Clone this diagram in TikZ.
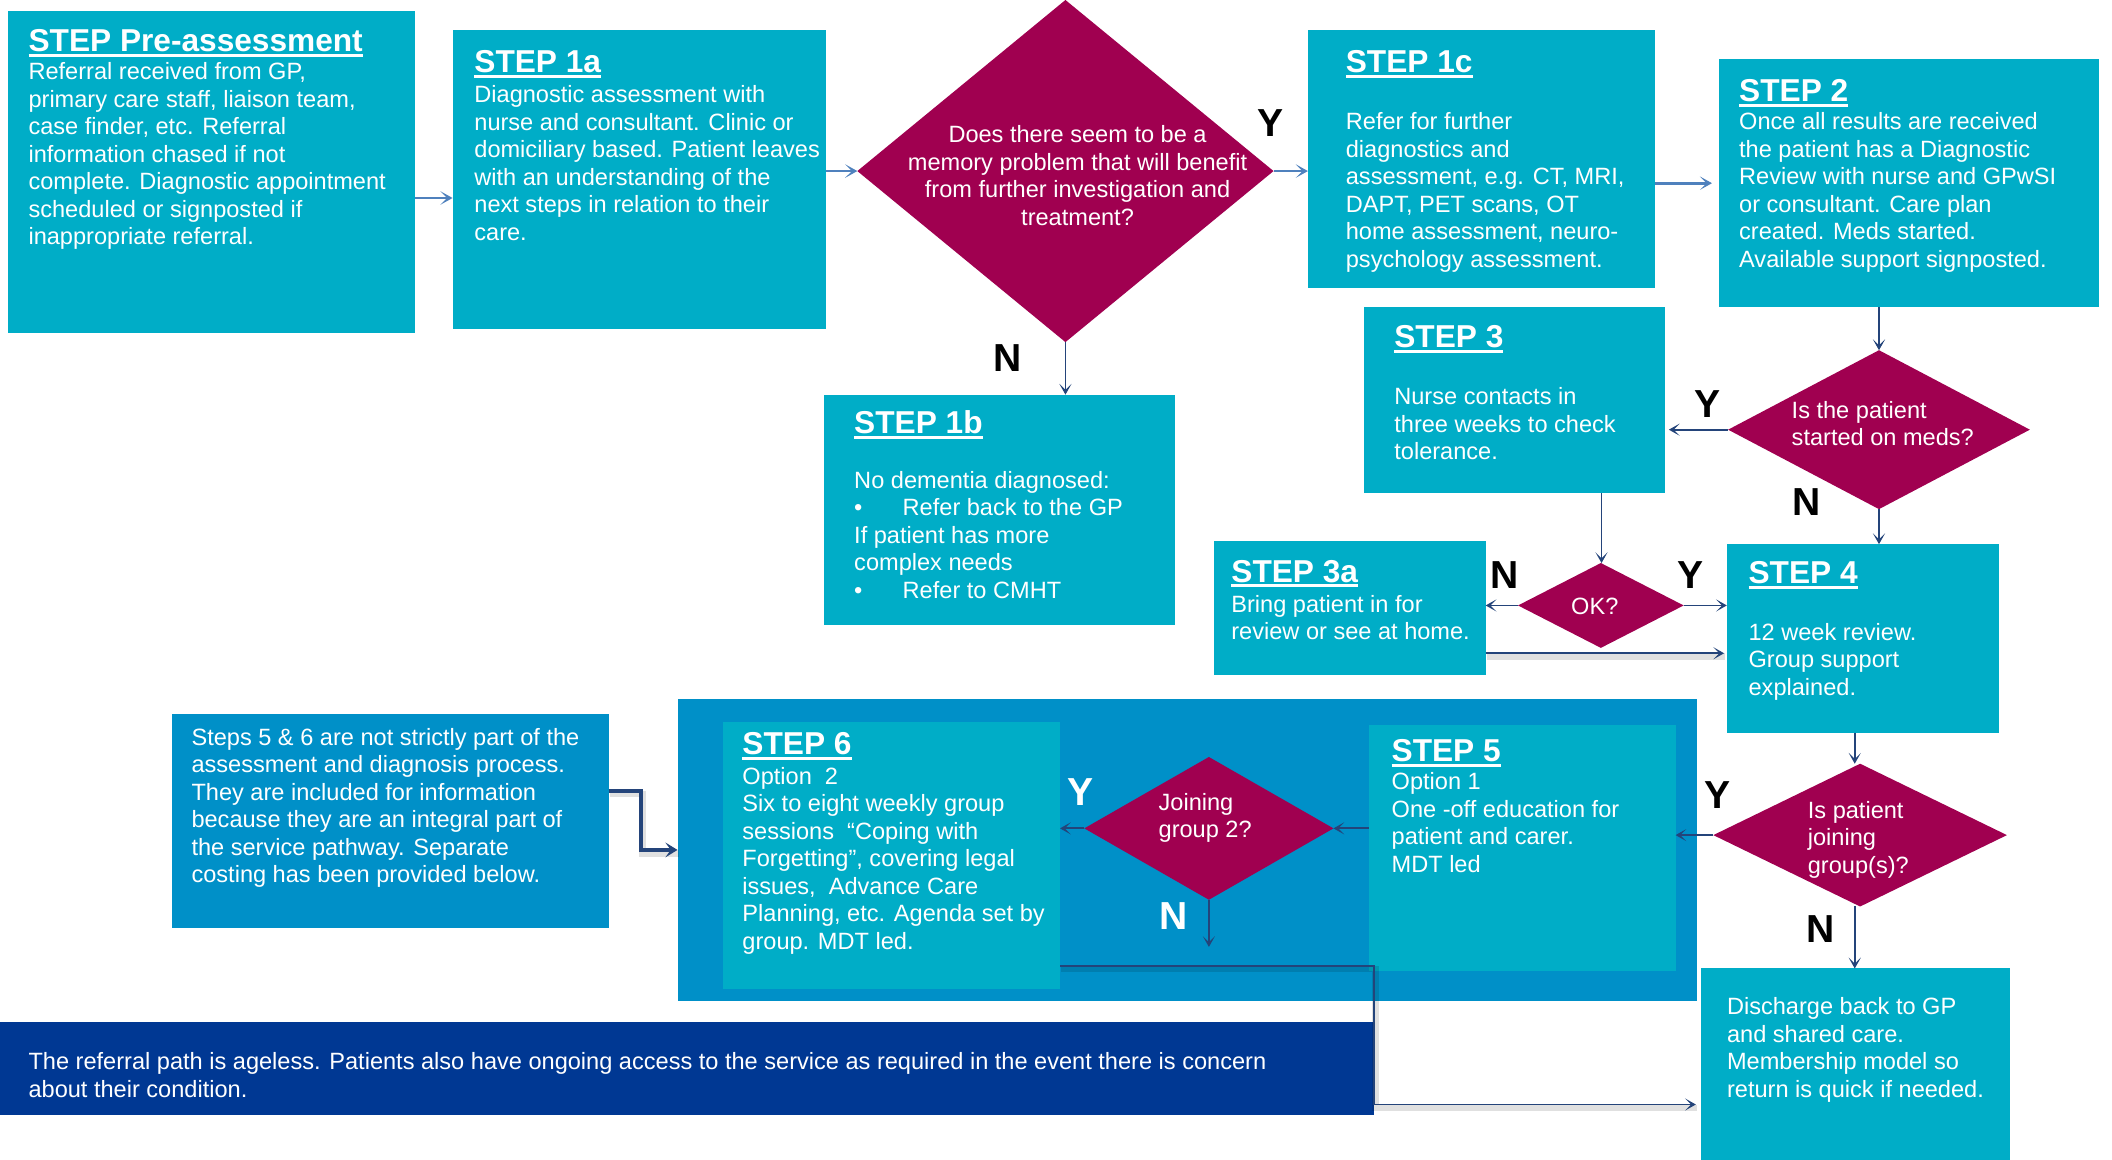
\documentclass[tikz,border=0pt]{standalone}
\usepackage{fontspec}
\setmainfont{Liberation Sans}
\usetikzlibrary{arrows.meta,shapes.geometric}

\definecolor{tealbox}{RGB}{0,173,199}
\definecolor{groupblue}{RGB}{0,144,200}
\definecolor{plum}{RGB}{160,0,80}
\definecolor{navy}{RGB}{0,56,147}
\definecolor{linkdark}{RGB}{36,68,122}
\definecolor{linklight}{RGB}{79,129,189}

\newcommand\bodyfont{\fontsize{17.5}{20.4}\selectfont}
\newcommand\titlefont{\fontsize{23.5}{28}\selectfont\bfseries}
\newcommand\ynfont{\fontsize{29}{30}\selectfont\bfseries}
% underlined step heading with a heavy rule
\newcommand\stepul[1]{\setbox0=\hbox{#1}\rlap{\rule[-4pt]{\wd0}{2.2pt}}\box0}
\newcommand\bul{\makebox[36pt][l]{•}}

\begin{document}
\begin{tikzpicture}[x=1pt,y=-1pt,
  box/.style={fill=tealbox, inner sep=0pt, outer sep=0pt, anchor=north west},
  gbox/.style={fill=groupblue, inner sep=0pt, outer sep=0pt, anchor=north west},
  dia/.style={diamond, fill=plum, inner sep=0pt, outer sep=0pt},
  txt/.style={anchor=north west, inner sep=0pt, align=left, text=white, font=\bodyfont},
  ttl/.style={anchor=north west, inner sep=0pt, text=white, font=\titlefont},
  yn/.style={inner sep=0pt, font=\ynfont, text=black},
  ynw/.style={inner sep=0pt, font=\ynfont, text=white},
  arrL/.style={draw=linklight, line width=2pt, -{Stealth[length=9pt,width=10pt,inset=5pt]}},
  arrD/.style={draw=linkdark, line width=1.4pt, -{Stealth[length=8pt,width=9pt,inset=4.5pt]}},
  shadowed/.style={preaction={draw=black, opacity=0.12, line width=5pt, -,
      transform canvas={shift={(1pt,-2.5pt)}}}}
]
\useasboundingbox (0,0) rectangle (1568,861);

% ---------- boxes ----------
\node[box, minimum width=302pt, minimum height=239pt] (pre) at (6,8) {};
\node[box, minimum width=277pt, minimum height=222pt] (s1a) at (336,22) {};
\node[box, minimum width=258pt, minimum height=192pt] (s1c) at (971,22) {};
\node[box, minimum width=282pt, minimum height=184pt] (s2) at (1276,44) {};
\node[box, minimum width=260pt, minimum height=171pt] (s1b) at (612,293) {};
\node[box, minimum width=223pt, minimum height=138pt] (s3) at (1013,228) {};
\node[box, minimum width=202pt, minimum height=99pt] (s3a) at (901,402) {};
\node[box, minimum width=202pt, minimum height=140pt] (s4) at (1282,404) {};
\node[box, minimum width=229pt, minimum height=142pt] (dis) at (1263,719) {};
\node[gbox, minimum width=757pt, minimum height=224pt] (grp) at (503,519) {};
\node[box, minimum width=250pt, minimum height=198pt] (s6) at (537,536) {};
\node[box, minimum width=228pt, minimum height=183pt] (s5) at (1016,538) {};
\node[gbox, minimum width=324pt, minimum height=159pt] (note) at (128,530) {};
\node[fill=navy, inner sep=0pt, outer sep=0pt, anchor=north west,
      minimum width=1020pt, minimum height=69pt] (banner) at (0,759) {};

% ---------- decisions ----------
\node[dia, minimum width=309pt, minimum height=254pt] (q1) at (791,127) {};
\node[dia, minimum width=224pt, minimum height=118pt] (q2) at (1395,319) {};
\node[dia, minimum width=123pt, minimum height=63pt] (qok) at (1188.5,449.5) {};
\node[dia, minimum width=218pt, minimum height=106pt] (q3) at (1381,620) {};
\node[dia, minimum width=185pt, minimum height=106pt] (q4) at (897.5,615) {};

% ---------- texts ----------
\node[ttl] (preT) at (21,21.5) {\stepul{STEP Pre-assessment}};
\node[txt] (preB) at (21,46.5) {Referral received from GP,\\primary care staff, liaison team,\\case finder, etc. Referral\\information chased if not\\complete. Diagnostic appointment\\scheduled or signposted if\\inappropriate referral.};

\node[ttl] (s1aT) at (352,37.5) {\stepul{STEP 1a}};
\node[txt] (s1aB) at (352,63.5) {Diagnostic assessment with\\nurse and consultant. Clinic or\\domiciliary based. Patient leaves\\with an understanding of the\\next steps in relation to their\\care.};

\node[inner sep=0pt, align=center, text=white, font=\bodyfont] (q1T) at (800,130.5)
  {Does there seem to be a\\memory problem that will benefit\\from further investigation and\\treatment?};

\node[ttl] (s1cT) at (999,37.5) {\stepul{STEP 1c}};
\node[txt] (s1cB) at (999,83.5) {Refer for further\\diagnostics and\\assessment, e.g. CT, MRI,\\DAPT, PET scans, OT\\home assessment, neuro-\\psychology assessment.};

\node[ttl] (s2T) at (1291,58.5) {\stepul{STEP 2}};
\node[txt] (s2B) at (1291,83.5) {Once all results are received\\the patient has a Diagnostic\\Review with nurse and GPwSI\\or consultant. Care plan\\created. Meds started.\\Available support signposted.};

\node[ttl] (s1bT) at (634,304.5) {\stepul{STEP 1b}};
\node[txt] (s1bB) at (634,349.5) {No dementia diagnosed:\\\bul Refer back to the GP\\If patient has more\\complex needs\\\bul Refer to CMHT};

\node[ttl] (s3T) at (1035,241.5) {\stepul{STEP 3}};
\node[txt] (s3B) at (1035,287.5) {Nurse contacts in\\three weeks to check\\tolerance.};

\node[txt] (q2T) at (1330,297.5) {Is the patient\\started on meds?};

\node[ttl] (s3aT) at (914,415.5) {\stepul{STEP 3a}};
\node[txt] (s3aB) at (914,441.5) {Bring patient in for\\review or see at home.};

\node[inner sep=0pt, text=white, font=\bodyfont] (qokT) at (1184,450) {OK?};

\node[ttl] (s4T) at (1298,416.5) {\stepul{STEP 4}};
\node[txt] (s4B) at (1298,462.5) {12 week review.\\Group support\\explained.};

\node[txt] (q3T) at (1342,594.5) {Is patient\\joining\\group(s)?};

\node[txt] (disB) at (1282,740.5) {Discharge back to GP\\and shared care.\\Membership model so\\return is quick if needed.};

\node[ttl] (s6T) at (551,543.5) {\stepul{STEP 6}};
\node[txt] (s6B) at (551,569.5) {Option\ \ 2\\Six to eight weekly group\\sessions\ \ “Coping with\\Forgetting”, covering legal\\issues,\ \ Advance Care\\Planning, etc. Agenda set by\\group. MDT led.};

\node[ttl] (s5T) at (1033,548.5) {\stepul{STEP 5}};
\node[txt] (s5B) at (1033,573.5) {Option 1\\One -off education for\\patient and carer.\\MDT led};

\node[txt] (q4T) at (860,588.5) {Joining\\group 2?};

\node[txt] (noteB) at (142,540.5) {Steps 5 \& 6 are not strictly part of the\\assessment and diagnosis process.\\They are included for information\\because they are an integral part of\\the service pathway. Separate\\costing has been provided below.};

\node[txt] (banT) at (21,781.5) {The referral path is ageless. Patients also have ongoing access to the service as required in the event there is concern\\about their condition.};

% ---------- yes / no marks ----------
\node[yn] (y1) at (943,91) {Y};
\node[yn] (n1) at (748,266) {N};
\node[yn] (y2) at (1268,300) {Y};
\node[yn] (n2) at (1341,373) {N};
\node[yn] (n3) at (1117,427) {N};
\node[yn] (y3) at (1255,427) {Y};
\node[yn] (y4) at (1275,590) {Y};
\node[yn] (n4) at (1352,690) {N};
\node[ynw] (y5) at (802,588) {Y};
\node[ynw] (n5) at (871,680) {N};

% ---------- connectors ----------
\coordinate (r1) at (0,147);
\draw[arrL] (pre.east |- r1) -- (s1a.west |- r1);
\draw[arrL] (s1a.east |- q1.west) -- (q1.west);
\draw[arrL] (q1.east) -- (s1c.west |- q1.east);
\coordinate (r2) at (0,136);
\draw[arrL, shorten >=5pt] (s1c.east |- r2) -- (s2.west |- r2);

\draw[arrD] (q1.south) -- (q1.south |- s1b.north);
\draw[arrD] (q2.north |- s2.south) -- (q2.north);
\draw[arrD, shorten >=3pt] (q2.west) -- (s3.east |- q2.west);
\draw[arrD] (q2.south) -- (q2.south |- s4.north);
\coordinate (r3) at (1189,0);
\draw[arrD] (r3 |- s3.south) -- (r3 |- qok.north);
\draw[arrD] (qok.west) -- (s3a.east |- qok.west);
\draw[arrD] (qok.east) -- (s4.west |- qok.east);
\coordinate (r4) at (0,485);
\draw[arrD, shadowed, shorten >=2pt] (s3a.east |- r4) -- (s4.west |- r4);
\coordinate (r5) at (1377,0);
\draw[arrD] (r5 |- s4.south) -- (r5 |- q3.north);
\draw[arrD] (q3.west) -- (s5.east |- q3.west);
\draw[arrD] (r5 |- q3.south) -- (r5 |- dis.north);
\draw[arrD] (s5.west |- q4.east) -- (q4.east);
\draw[arrD] (q4.west) -- (s6.east |- q4.west);
\coordinate (q4end) at (897.5,703);
\draw[arrD] (q4.south) -- (q4end);

% note box to the group panel
\coordinate (e1) at (476,587);
\coordinate (e2) at (0,631);
\draw[draw=linkdark, line width=3pt, shadowed,
      -{Stealth[length=9pt,width=11pt,inset=4pt]}]
  (note.east |- e1) -- (e1) -- (e1 |- e2) -- (grp.west |- e2);

% group panel to discharge
\coordinate (b1) at (1020,717);
\coordinate (b2) at (0,820);
\draw[arrD, line width=1.2pt, shadowed, shorten >=4pt]
  (s6.east |- b1) -- (b1) -- (b1 |- b2) -- (dis.west |- b2);
\end{tikzpicture}
\end{document}
